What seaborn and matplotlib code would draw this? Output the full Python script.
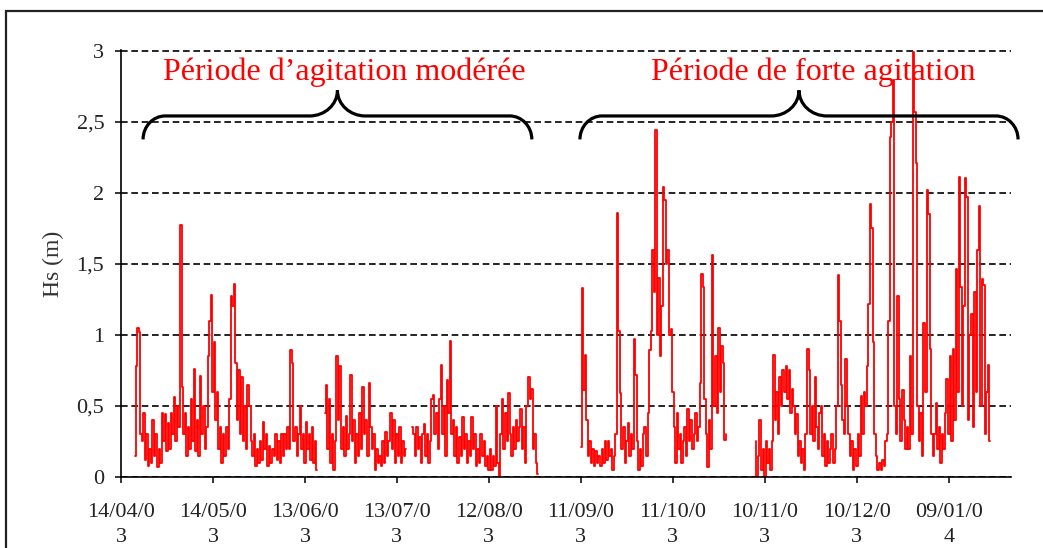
import numpy as np
import pandas as pd
import matplotlib
matplotlib.use("Agg")
import matplotlib.pyplot as plt
from matplotlib.path import Path
from matplotlib.patches import PathPatch, Rectangle
import seaborn as sns

# ---------------- data (Hs in m, 12-hourly readings) ----------------
base_date = "2003-04-14"

seg1a_start = "2003-04-18 12:00"
seg1a_hs = [0.15, 0.78, 1.05, 1.02, 0.3, 0.25, 0.45, 0.12, 0.3, 0.08, 0.2, 0.1, 0.4, 0.15,
            0.3, 0.07, 0.2, 0.1, 0.45, 0.25, 0.44, 0.18, 0.38, 0.2, 0.45, 0.3, 0.56, 0.25,
            0.5, 0.35, 1.77, 0.63, 0.3, 0.45, 0.15, 0.35, 0.2, 0.55, 0.25, 0.76, 0.18, 0.4,
            0.15, 0.71, 0.3, 0.5, 0.2, 0.35, 0.85, 1.1, 1.28, 0.6, 0.95, 0.4, 0.6, 0.2,
            0.35, 0.1, 0.3, 0.15, 0.35, 0.2, 0.55, 1.27, 1.2, 1.36, 0.8, 0.4, 0.75, 0.3,
            0.7, 0.25, 0.5, 0.2, 0.65, 0.5, 0.25, 0.15, 0.3, 0.08, 0.2, 0.1, 0.25, 0.12,
            0.39, 0.2, 0.3, 0.08, 0.22, 0.1, 0.2, 0.15, 0.3, 0.12, 0.25, 0.1, 0.3, 0.15,
            0.3, 0.2, 0.35, 0.2, 0.89, 0.8, 0.25, 0.35, 0.15, 0.3, 0.5, 0.2, 0.3, 0.1,
            0.39, 0.2, 0.3, 0.12, 0.35, 0.1, 0.25, 0.05]

seg1b_start = "2003-06-19 12:00"
seg1b_hs = [0.45, 0.65, 0.2, 0.55, 0.1, 0.3, 0.05, 0.25, 0.85, 0.4, 0.78, 0.2, 0.35, 0.15,
            0.43, 0.2, 0.3, 0.72, 0.25, 0.4, 0.1, 0.3, 0.15, 0.45, 0.2, 0.63, 0.3, 0.4,
            0.15, 0.66, 0.35, 0.2, 0.3, 0.05, 0.2, 0.1, 0.15, 0.08, 0.25, 0.1, 0.32, 0.15,
            0.25, 0.45, 0.2, 0.4, 0.1, 0.3, 0.15, 0.35, 0.1, 0.25, 0.15, 0.2]

seg1c_start = "2003-07-18 00:00"
seg1c_hs = [0.35, 0.3, 0.15, 0.35, 0.2, 0.28, 0.1, 0.3, 0.37, 0.15, 0.3, 0.1, 0.25, 0.55,
            0.58, 0.3, 0.45, 0.2, 0.55, 0.79, 0.3, 0.5, 0.15, 0.68, 0.45, 0.96, 0.3, 0.4,
            0.15, 0.35, 0.1, 0.28, 0.15, 0.42, 0.2, 0.3, 0.1, 0.25, 0.15, 0.42, 0.2, 0.3,
            0.08, 0.2, 0.1, 0.3, 0.15, 0.25, 0.08, 0.15, 0.05, 0.2, 0.05, 0.15, 0.08, 0.5,
            0.1, 0.0, 0.3, 0.55, 0.2, 0.45, 0.25, 0.59, 0.3, 0.15, 0.35, 0.2, 0.4, 0.25,
            0.35, 0.48, 0.2, 0.35, 0.1, 0.5, 0.7, 0.55, 0.62, 0.2, 0.3, 0.1, 0.02]

seg2_start = "2003-09-11 00:00"
seg2_hs = [0.21, 1.33, 0.61, 0.86, 0.4, 0.15, 0.25, 0.1, 0.2, 0.08, 0.18, 0.1, 0.15, 0.08,
           0.2, 0.1, 0.25, 0.12, 0.25, 0.15, 0.2, 0.05, 0.15, 0.3, 1.86, 1.03, 0.59, 0.2,
           0.35, 0.1, 0.25, 0.38, 0.15, 0.3, 0.2, 0.97, 0.72, 0.25, 0.05, 0.2, 0.08, 0.3,
           0.35, 0.15, 0.45, 0.89, 1.03, 1.6, 1.3, 2.44, 1.0, 1.4, 0.85, 1.2, 2.04, 1.95,
           1.5, 1.6, 1.0, 1.04, 0.6, 0.35, 0.1, 0.45, 0.2, 0.3, 0.1, 0.25, 0.35, 0.15,
           0.48, 0.25, 0.4, 0.2, 0.3, 0.45, 0.25, 0.35, 0.66, 1.43, 1.34, 0.55, 0.3, 0.07,
           0.4, 0.2, 1.56, 0.5, 0.85, 0.45, 1.05, 0.6, 0.92, 0.8, 0.26, 0.3]

seg3_start = "2003-11-07 00:00"
seg3_hs = [0.25, 0.0, 0.15, 0.4, 0.05, 0.2, 0.0, 0.25, 0.1, 0.2, 0.05, 0.25, 0.86, 0.4,
           0.6, 0.3, 0.7, 0.5, 0.75, 0.6, 0.78, 0.55, 0.75, 0.45, 0.62, 0.5, 0.3, 0.44,
           0.15, 0.25, 0.1, 0.2, 0.05, 0.3, 0.9, 0.75, 0.3, 0.5, 0.25, 0.7, 0.35, 0.2,
           0.45, 0.5, 0.15, 0.3, 0.08, 0.25, 0.1, 0.2, 0.3, 0.1, 0.2, 0.5, 1.42, 1.1,
           0.65, 0.4, 0.3, 0.83, 0.5, 0.3, 0.15, 0.25, 0.05, 0.2, 0.08, 0.3, 0.15, 0.57,
           0.3, 0.6, 0.5, 0.78, 1.22, 1.92, 1.75, 0.95, 0.3, 0.15, 0.05, 0.1, 0.05, 0.12,
           0.08, 0.25, 0.3, 1.1, 2.39, 2.5, 2.79, 0.5, 0.3, 1.27, 0.55, 0.25, 0.61, 0.4,
           0.2, 0.35, 0.2, 0.85, 0.3, 2.99, 2.57, 2.21, 0.5, 0.25, 0.45, 0.15, 1.08, 0.6,
           2.02, 1.85, 0.9, 0.3, 0.15, 0.3, 0.52, 0.2, 0.35, 0.1, 0.3, 0.2, 0.45, 0.69,
           0.3, 0.85, 0.25, 0.9, 0.4, 1.46, 0.6, 2.11, 1.34, 0.5, 1.2, 2.1, 1.97, 0.4,
           1.0, 1.15, 0.35, 1.3, 0.6, 1.6, 1.91, 0.5, 1.39, 1.35, 0.3, 0.6, 0.79, 0.25]

tick_dates = ["2003-04-14", "2003-05-14", "2003-06-13", "2003-07-13", "2003-08-12",
              "2003-09-11", "2003-10-11", "2003-11-10", "2003-12-10", "2004-01-09"]
tick_labels = ["14/04/0\n3", "14/05/0\n3", "13/06/0\n3", "13/07/0\n3", "12/08/0\n3",
               "11/09/0\n3", "11/10/0\n3", "10/11/0\n3", "10/12/0\n3", "09/01/0\n4"]
y_ticks = [0, 0.5, 1, 1.5, 2, 2.5, 3]
y_tick_labels = ["0", "0,5", "1", "1,5", "2", "2,5", "3"]

period_labels = ["Période d’agitation modérée", "Période de forte agitation"]
# brace spans (days from base_date) and label centres
brace_spans = [(7.2, 134.0), (149.7, 292.6)]
label_centres = [73.0, 225.7]

# ---------------- build table ----------------
frames = []
for k, (start, vals) in enumerate([(seg1a_start, seg1a_hs), (seg1b_start, seg1b_hs),
                                   (seg1c_start, seg1c_hs), (seg2_start, seg2_hs),
                                   (seg3_start, seg3_hs)]):
    t = pd.Timestamp(start) + pd.to_timedelta(np.arange(len(vals)) * 12, unit="h")
    frames.append(pd.DataFrame({"date": t, "hs": vals, "seg": k}))
df = pd.concat(frames, ignore_index=True)

# ---------------- plotting ----------------
sns.set_theme(style="white")
plt.rcParams["font.family"] = ["Liberation Serif", "DejaVu Serif"]

W, H = 1043, 548
fig = plt.figure(figsize=(W / 100, H / 100), dpi=100)
ax = fig.add_axes([121 / W, 1 - 477 / H, (1011 - 121) / W, (477 - 50) / H])

sns.lineplot(data=df, x="date", y="hs", units="seg", estimator=None,
             color="#ff0000", linewidth=1.3, ax=ax, legend=False, drawstyle="steps-mid")

base = pd.Timestamp(base_date)
ax.set_xlim(base, base + pd.Timedelta(days=290.3))
ax.set_ylim(0, 3.004)

ax.set_xticks([pd.Timestamp(d) for d in tick_dates])
ax.set_xticklabels(tick_labels, linespacing=1.42)
ax.set_yticks(y_ticks)
ax.set_yticklabels(y_tick_labels)
ax.set_xlabel("")
ax.set_ylabel("Hs (m)", fontsize=17, color="#333333", labelpad=9)

ax.yaxis.grid(True, linestyle=(0, (4, 2.2)), color="black", linewidth=1.2)
ax.xaxis.grid(False)
ax.set_axisbelow(True)

for s in ["top", "right"]:
    ax.spines[s].set_visible(False)
for s in ["left", "bottom"]:
    ax.spines[s].set_color("black")
    ax.spines[s].set_linewidth(1.2)

ax.tick_params(axis="both", direction="out", length=4, width=1.1, color="black",
               labelsize=16, labelcolor="#222222")
ax.tick_params(axis="x", pad=15)
ax.tick_params(axis="y", pad=8)
ax.tick_params(axis="both", which="both", left=True, bottom=True)


def day(d):
    return matplotlib.dates.date2num(base + pd.Timedelta(days=d))


def brace(x0, x1, y_tip=2.375, y_bar=2.54, y_cusp=2.72, rx=7.2, mrx=9.1):
    xm = (x0 + x1) / 2
    k = 0.552
    pts = [
        (day(x0), y_tip),
        (day(x0), y_tip + k * (y_bar - y_tip)), (day(x0 + rx * (1 - k)), y_bar), (day(x0 + rx), y_bar),
        (day(xm - mrx), y_bar),
        (day(xm - mrx * (1 - k)), y_bar), (day(xm), y_cusp - k * (y_cusp - y_bar)), (day(xm), y_cusp),
        (day(xm), y_cusp - k * (y_cusp - y_bar)), (day(xm + mrx * (1 - k)), y_bar), (day(xm + mrx), y_bar),
        (day(x1 - rx), y_bar),
        (day(x1 - rx * (1 - k)), y_bar), (day(x1), y_tip + k * (y_bar - y_tip)), (day(x1), y_tip),
    ]
    codes = [Path.MOVETO, Path.CURVE4, Path.CURVE4, Path.CURVE4, Path.LINETO,
             Path.CURVE4, Path.CURVE4, Path.CURVE4, Path.CURVE4, Path.CURVE4, Path.CURVE4,
             Path.LINETO, Path.CURVE4, Path.CURVE4, Path.CURVE4]
    patch = PathPatch(Path(pts, codes), facecolor="none", edgecolor="black",
                      linewidth=2.3, clip_on=False, zorder=5, capstyle="butt")
    ax.add_patch(patch)


for (a, b), lab, c in zip(brace_spans, period_labels, label_centres):
    brace(a, b)
    ax.text(day(c), 2.845, lab, color="#ff0000", fontsize=23, ha="center", va="center",
            zorder=6)

# outer document frame
fig.patches.append(Rectangle((6 / W, -0.1), 1.2, 1 - 11 / H + 0.1, transform=fig.transFigure,
                             fill=False, edgecolor="#222222", linewidth=1.6))

fig.savefig("out.png", dpi=100)
